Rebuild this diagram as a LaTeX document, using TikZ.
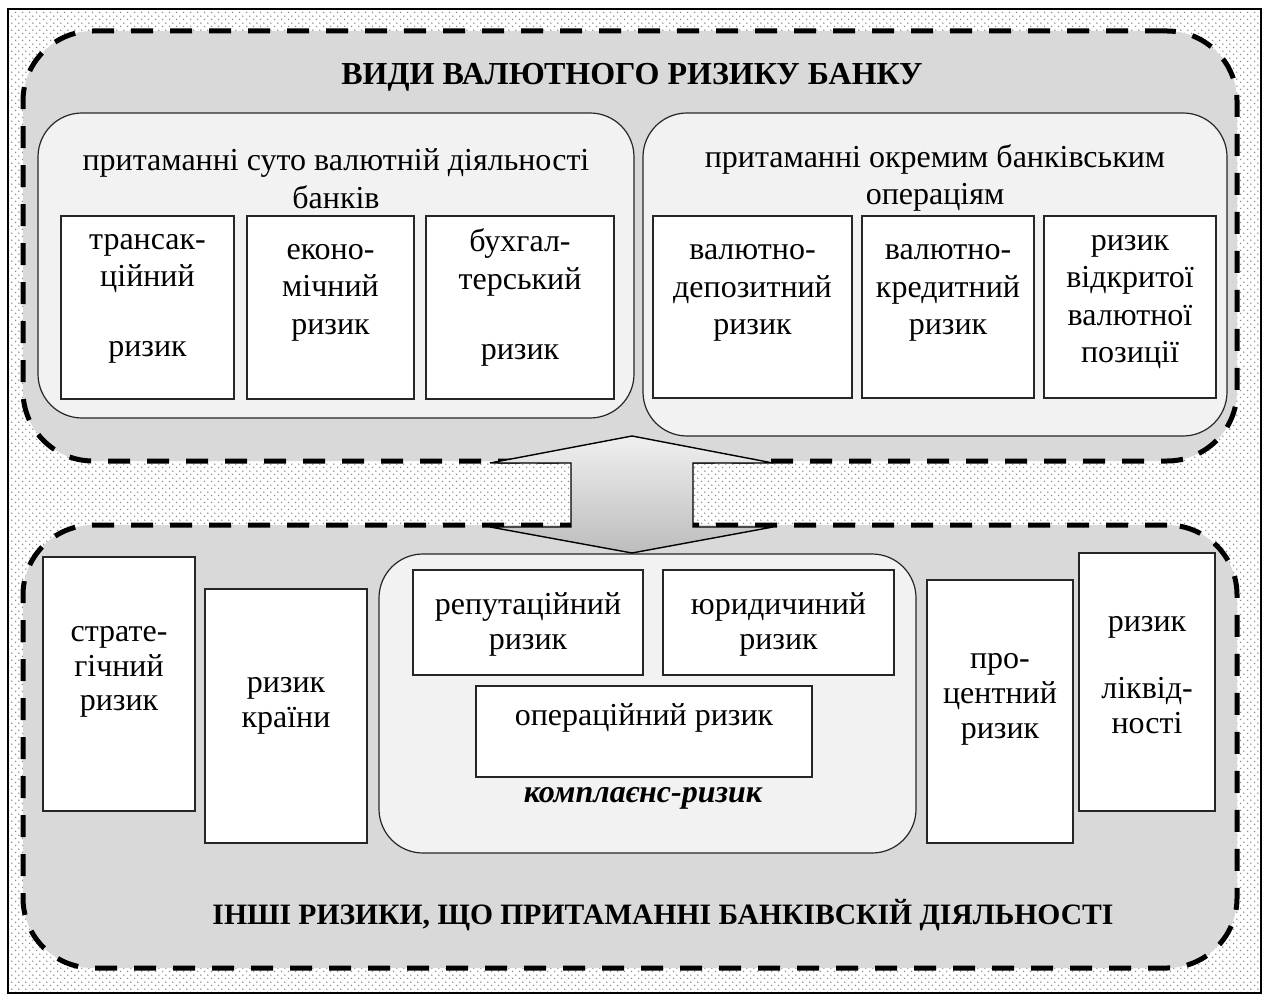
\documentclass[tikz,border=0pt]{standalone}
\usepackage{fontspec}
\setmainfont{Liberation Serif}
\usetikzlibrary{patterns,fit,calc}
\pgfdeclarepatternformonly{sparsedots}{\pgfqpoint{0pt}{0pt}}{\pgfqpoint{3.6pt}{3.6pt}}{\pgfqpoint{3.6pt}{3.6pt}}{%
  \pgfpathcircle{\pgfqpoint{0.9pt}{0.9pt}}{0.42pt}%
  \pgfpathcircle{\pgfqpoint{2.7pt}{2.7pt}}{0.42pt}%
  \pgfusepath{fill}}
\begin{document}
\begin{tikzpicture}[x=0.5pt,y=-0.5pt,
  dashbox/.style={draw=black, line width=2.5pt, dash pattern=on 11pt off 8.5pt, fill=black!15, rounded corners=35pt},
  groupbox/.style={draw=black!85, line width=0.6pt, fill=black!5, rounded corners=22pt, inner sep=0pt},
  wbox/.style={draw=black!85, line width=0.6pt, fill=white, inner sep=0pt},
  txt/.style={font=\fontsize{16}{18.8}\selectfont, align=center, inner sep=0pt},
  txtb/.style={font=\fontsize{16}{17.4}\selectfont, align=center, inner sep=0pt},
  ttl/.style={font=\fontsize{16}{19}\selectfont\bfseries, inner sep=0pt, anchor=base},
  arrowsh/.style={draw=black, line width=0.7pt, top color=black!6, bottom color=black!26, line join=miter}
]
\useasboundingbox (0,0) rectangle (1267,994);
% background frame
\fill[white] (8,9) rectangle (1261,993);
\fill[pattern=sparsedots, pattern color=black!45] (8,9) rectangle (1261,993);
\draw[line width=0.7pt] (8,9) rectangle (1261,993);

% dashed groups
\node[dashbox, inner sep=0pt, fit={(23,31) (1237,461)}] (top) {};
\node[dashbox, inner sep=0pt, fit={(23,525) (1237,968)}] (bot) {};

\node[ttl] (toptitle) at (632,85) {ВИДИ ВАЛЮТНОГО РИЗИКУ БАНКУ};
\node[ttl, font=\fontsize{14.8}{18}\selectfont\bfseries] (bottitle) at (663,924) {ІНШІ РИЗИКИ, ЩО ПРИТАМАННІ БАНКІВСКІЙ ДІЯЛЬНОСТІ};

% top-left group
\node[groupbox, fit={(38,113) (634,418)}] (gl) {};
\node[txt] (glt) at (336,179) {притаманні суто валютній діяльності\\банків};
\node[wbox, fit={(61,216) (234,399)}] (b1) {};
\node[wbox, fit={(247,216) (414,399)}] (b2) {};
\node[wbox, fit={(426,216) (614,399)}] (b3) {};
\node[txt] (b1t) at ($(b1.center)+(0,-9)$) {трансак-\\ційний\\[16pt]ризик};
\node[txt] (b2t) at ($(b2.center)+(0,-15)$) {еконо-\\мічний\\ризик};
\node[txt] (b3t) at ($(b3.center)+(0,-10)$) {бухгал-\\терський\\[16pt]ризик};

% top-right group
\node[groupbox, fit={(643,113) (1227,436)}] (gr) {};
\node[txt] (grt) at (935,178) {притаманні окремим банківським\\операціям};
\node[wbox, fit={(653,216) (852,398)}] (b4) {};
\node[wbox, fit={(862,216) (1034,398)}] (b5) {};
\node[wbox, fit={(1044,216) (1216,398)}] (b6) {};
\node[txt] (b4t) at ($(b4.center)+(0,-14)$) {валютно-\\депозитний\\ризик};
\node[txt] (b5t) at ($(b5.center)+(0,-14)$) {валютно-\\кредитний\\ризик};
\node[txt] (b6t) at ($(b6.center)+(0,-5)$) {ризик\\відкритої\\валютної\\позиції};

% bottom group
\node[wbox, fit={(43,557) (195,811)}] (s1) {};
\node[txtb] (s1t) at ($(s1.center)+(0,-12)$) {страте-\\гічний\\ризик};
\node[wbox, fit={(205,589) (367,843)}] (s2) {};
\node[txtb] (s2t) at ($(s2.center)+(0,-10)$) {ризик\\країни};

\node[groupbox, fit={(379,554) (916,853)}] (cm) {};
\node[wbox, fit={(413,570) (643,675)}] (c1) {};
\node[txtb] (c1t) at ($(c1.center)+(0,2)$) {репутаційний\\ризик};
\node[wbox, fit={(663,570) (894,675)}] (c2) {};
\node[txtb] (c2t) at ($(c2.center)+(0,2)$) {юридичиний\\ризик};
\node[wbox, fit={(476,686) (812,777)}] (c3) {};
\node[txt, anchor=base] (c3t) at (644,725) {операційний ризик};
\node[txt, anchor=base, font=\fontsize{16}{18.8}\selectfont\bfseries\itshape] (cmt) at (643,802) {комплаєнс-ризик};

\node[wbox, fit={(927,580) (1073,843)}] (s3) {};
\node[txtb] (s3t) at ($(s3.center)+(0,-12)$) {про-\\центний\\ризик};
\node[wbox, fit={(1079,553) (1215,811)}] (s4) {};
\node[txtb] (s4t) at ($(s4.center)+(0,-7)$) {ризик\\[16pt]ліквід-\\ності};

% double arrow between groups
\coordinate (atop) at (632,436);
\coordinate (abot) at (632,553);
\path[arrowsh] (atop) -- (773,463) -- (693,463) -- (693,527) -- (773,527) -- (abot)
  -- (490,527) -- (571,527) -- (571,463) -- (490,463) -- cycle;
\end{tikzpicture}
\end{document}
